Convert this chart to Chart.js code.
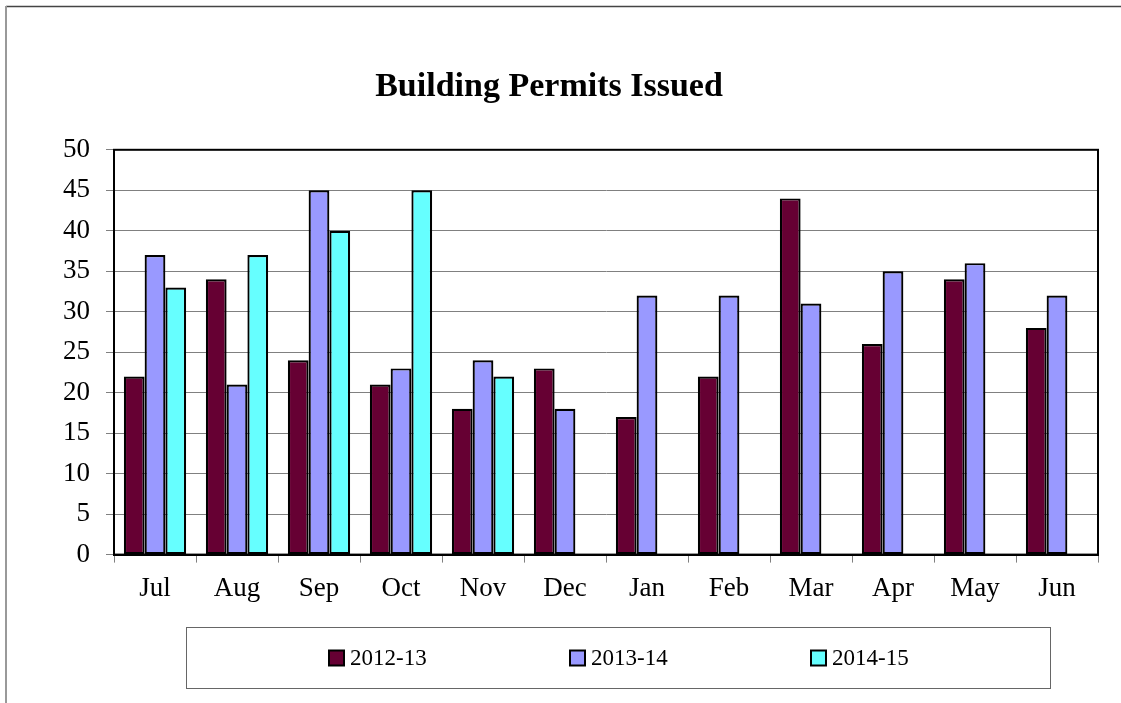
<!DOCTYPE html>
<html>
<head>
<meta charset="utf-8">
<script src="https://cdn.jsdelivr.net/npm/chart.js@4"></script>
<style>
  html, body { margin: 0; padding: 0; background: #ffffff; }
  #wrap { position: relative; width: 1121px; height: 703px; }
</style>
</head>
<body>
<div id="wrap"><canvas id="c" width="1121" height="703"></canvas></div>
<script>
const categories = ['Jul', 'Aug', 'Sep', 'Oct', 'Nov', 'Dec', 'Jan', 'Feb', 'Mar', 'Apr', 'May', 'Jun'];
const seriesNames = ['2012-13', '2013-14', '2014-15'];
const values2012 = [22, 34, 24, 21, 18, 23, 17, 22, 44, 26, 34, 28];
const values2013 = [37, 21, 45, 23, 24, 18, 32, 32, 31, 35, 36, 32];
const values2014 = [33, 37, 40, 45, 22, null, null, null, null, null, null, null];
const seriesColors = ['#660033', '#9999ff', '#66ffff'];
const chartTitle = 'Building Permits Issued';
const yMin = 0, yMax = 50, yStep = 5;

const serif = "'Liberation Serif', 'Times New Roman', serif";

const framePlugin = {
  id: 'frame',
  beforeDraw(chart) {
    const ctx = chart.ctx;
    ctx.save();
    ctx.fillStyle = '#ffffff';
    ctx.fillRect(0, 0, chart.width, chart.height);
    ctx.strokeStyle = '#444444';
    ctx.lineWidth = 1.5;
    ctx.beginPath();
    ctx.moveTo(6, 6.5); ctx.lineTo(chart.width, 6.5);
    ctx.stroke();
    ctx.strokeStyle = '#999999';
    ctx.lineWidth = 2;
    ctx.beginPath();
    ctx.moveTo(6, 6); ctx.lineTo(6, chart.height);
    ctx.stroke();
    ctx.restore();
  },
  afterDraw(chart) {
    const ctx = chart.ctx;
    const a = chart.chartArea;
    ctx.save();
    ctx.strokeStyle = '#000000';
    ctx.lineWidth = 2;
    ctx.strokeRect(a.left, a.top, a.right - a.left, a.bottom - a.top);
    // legend frame
    const lx = 186.5, ly = 627.5, lw = 864, lh = 61;
    ctx.strokeStyle = '#666666';
    ctx.lineWidth = 1;
    ctx.strokeRect(lx, ly, lw, lh);
    // legend items from datasets
    ctx.font = '23px ' + serif;
    const box = 15, gapBox = 6, gapItem = 143;
    const items = chart.data.datasets.map(ds => ({
      label: ds.label, color: ds.backgroundColor,
      w: box + gapBox + ctx.measureText(ds.label).width
    }));
    const total = items.reduce((s, it) => s + it.w, 0) + gapItem * (items.length - 1);
    let x = Math.round(lx + lw / 2 - total / 2);
    const cy = ly + lh / 2;
    items.forEach(it => {
      ctx.fillStyle = it.color;
      ctx.fillRect(x, cy - box / 2, box, box);
      ctx.strokeStyle = '#000000';
      ctx.lineWidth = 2;
      ctx.strokeRect(x, cy - box / 2, box, box);
      ctx.fillStyle = '#000000';
      ctx.textBaseline = 'middle';
      ctx.textAlign = 'left';
      ctx.fillText(it.label, x + box + gapBox, cy + 1);
      x += Math.round(it.w + gapItem);
    });
    ctx.restore();
  }
};

new Chart(document.getElementById('c'), {
  type: 'bar',
  data: {
    labels: categories,
    datasets: [values2012, values2013, values2014].map((vals, i) => ({
      label: seriesNames[i],
      data: vals,
      backgroundColor: seriesColors[i],
      borderColor: '#000000',
      borderWidth: 2.2,
      borderSkipped: false,
      categoryPercentage: 0.76,
      barPercentage: 1.0
    }))
  },
  options: {
    responsive: false,
    animation: false,
    devicePixelRatio: 1,
    layout: { padding: { left: 0, right: 23, top: 0, bottom: 88 } },
    plugins: {
      legend: { display: false },
      tooltip: { enabled: false },
      title: {
        display: true,
        text: chartTitle,
        color: '#000000',
        font: { family: serif, size: 34, weight: 'bold' },
        padding: { top: 67, bottom: 42 }
      }
    },
    scales: {
      x: {
        offset: true,
        grid: {
          display: true,
          offset: true,
          drawOnChartArea: false,
          drawTicks: true,
          tickLength: 8,
          color: '#808080',
          lineWidth: 1
        },
        border: { display: true, color: '#000000', width: 2 },
        ticks: {
          color: '#000000',
          font: { family: serif, size: 27 },
          padding: 10,
          maxRotation: 0
        }
      },
      y: {
        min: yMin,
        max: yMax,
        afterFit(scale) { scale.width = 114; },
        grid: {
          color: '#808080',
          lineWidth: 1,
          drawTicks: true,
          tickLength: 8
        },
        border: { display: true, color: '#000000', width: 2 },
        ticks: {
          stepSize: yStep,
          color: '#000000',
          font: { family: serif, size: 27 },
          padding: 16
        }
      }
    }
  },
  plugins: [framePlugin]
});
</script>
</body>
</html>
